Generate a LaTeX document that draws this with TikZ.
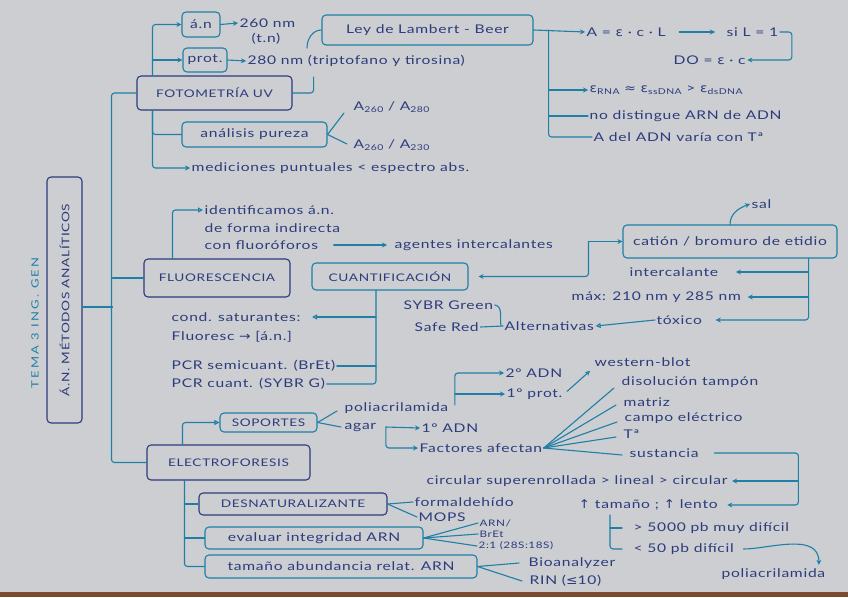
\documentclass[tikz,border=0pt]{standalone}
\usepackage{fontspec}
\setmainfont{Lato}[FakeStretch=1.3,LetterSpace=6]
\newfontfamily\symf{DejaVu Sans}[FakeStretch=1.15]
\newfontfamily\temaf{Lato}[FakeStretch=1.3,LetterSpace=22]
\usetikzlibrary{arrows.meta,calc}
\definecolor{ink}{HTML}{2C3C7C}
\definecolor{tealc}{HTML}{1F7FA6}
\definecolor{paper}{HTML}{CCCED2}
\definecolor{edge}{HTML}{7A4A32}
\newcommand\normtxt{\fontsize{12}{14}\selectfont}
\newcommand\smalltxt{\fontsize{9}{10}\selectfont}
\newcommand\capf{\fontsize{10.5}{12}\selectfont}
\newcommand\lowsub[1]{\raisebox{-0.35ex}{\fontsize{8}{9}\selectfont #1}}
\newcommand\sy[1]{{\symf #1}}
\begin{document}
\begin{tikzpicture}[x=1pt,y=-1pt,
  conn/.style={draw=tealc, line width=1.1pt, line cap=round, line join=round, rounded corners=3pt},
  tip/.style={-{Stealth[length=5pt,width=5pt]}},
  otip/.style={-{Triangle[open,length=5pt,width=5pt]}},
  txt/.style={text=ink, inner sep=1.5pt, anchor=west, font=\normtxt},
  stxt/.style={txt, font=\smalltxt},
  bx/.style={draw=tealc, line width=1.1pt, rounded corners=4pt, text=ink, inner sep=0pt, font=\normtxt},
  bxn/.style={bx, draw=ink},
  capbox/.style={font=\capf}]
\fill[paper] (0,0) rectangle (848,597);
\fill[edge] (0,592) rectangle (848,597);
\useasboundingbox (0,0) rectangle (848,597);

% ---------- title ----------
\node[bxn, capbox, minimum width=246pt, minimum height=35pt, rotate=90] (title) at (64.5,300) {Á.N. MÉTODOS ANALÍTICOS};
\node[rotate=90, text=tealc, font=\temaf\fontsize{10}{12}\selectfont] (tema) at (35,323) {TEMA 3 ING. GEN};

% ---------- main boxes ----------
\node[bxn, capbox, minimum width=155pt, minimum height=34pt] (foto) at (214.5,93) {FOTOMETRÍA UV};
\node[bxn, capbox, minimum width=146pt, minimum height=38pt] (fluo) at (217,278) {FLUORESCENCIA};
\node[bxn, capbox, minimum width=163pt, minimum height=35pt] (elec) at (228.5,462.5) {ELECTROFORESIS};

% ---------- fotometria ----------
\node[bx, minimum width=38pt, minimum height=25pt] (an) at (201,24.5) {á.n};
\node[bx, minimum width=44pt, minimum height=24pt] (prot) at (205,60) {prot.};
\node[bx, minimum width=145pt, minimum height=25pt] (pur) at (254.5,134.5) {análisis pureza};
\node[bx, minimum width=211pt, minimum height=30pt] (ley) at (427.5,30) {Ley de Lambert - Beer};
\node[txt] (t260) at (238,23) {260 nm};
\node[txt] (tn) at (250,39) {(t.n)};
\node[txt] (t280) at (246,61) {280 nm (triptofano y tirosina)};
\node[txt] (a280) at (352,107) {A\lowsub{260} / A\lowsub{280}};
\node[txt] (a230) at (352,145) {A\lowsub{260} / A\lowsub{230}};
\node[txt] (medic) at (190,168) {mediciones puntuales < espectro abs.};
\node[txt] (aecl) at (585,32) {A = \sy{ε} · c · L};
\node[txt] (siL) at (725,32) {si L = 1};
\node[txt] (do) at (672,60) {DO = \sy{ε} · c};
\node[txt] (eps) at (588,90) {\sy{ε}\lowsub{RNA} \sy{≈} \sy{ε}\lowsub{ssDNA} > \sy{ε}\lowsub{dsDNA}};
\node[txt] (nodist) at (588,116) {no distingue ARN de ADN};
\node[txt] (adel) at (592,137) {A del ADN varía con Tª};

% ---------- fluorescencia ----------
\node[txt] (id1) at (203,210) {identificamos á.n.};
\node[txt] (id2) at (203,228) {de forma indirecta};
\node[txt] (id3) at (203,245) {con fluoróforos};
\node[txt] (agentes) at (393,245) {agentes intercalantes};
\node[bx, capbox, minimum width=156pt, minimum height=27pt] (cuant) at (390,276.5) {CUANTIFICACIÓN};
\node[bx, minimum width=214pt, minimum height=33pt] (cation) at (730,241.5) {catión / bromuro de etidio};
\node[txt] (sal) at (750,204) {sal};
\node[txt] (intercal) at (628,272) {intercalante};
\node[txt] (max) at (570,297) {máx: 210 nm y 285 nm};
\node[txt] (toxico) at (655,320) {tóxico};
\node[txt] (alt) at (503,326) {Alternativas};
\node[txt] (sybr) at (402,305) {SYBR Green};
\node[txt] (safe) at (413,327) {Safe Red};
\node[txt] (cond) at (170,317) {cond. saturantes:};
\node[txt] (fluor) at (170,337) {Fluoresc \sy{→} [á.n.]};
\node[txt] (pcrs) at (170,366) {PCR semicuant. (BrEt)};
\node[txt] (pcrc) at (170,384) {PCR cuant. (SYBR G)};

% ---------- electroforesis ----------
\node[bx, capbox, minimum width=97pt, minimum height=19pt] (sop) at (268.5,422.5) {SOPORTES};
\node[bxn, capbox, minimum width=188pt, minimum height=22pt] (desn) at (293,504) {DESNATURALIZANTE};
\node[bx, minimum width=218pt, minimum height=22pt] (eval) at (314,538) {evaluar integridad ARN};
\node[bx, minimum width=272pt, minimum height=23pt] (tam) at (341,566.5) {tamaño abundancia relat. ARN};
\node[txt] (poli) at (343,408) {poliacrilamida};
\node[txt] (agar) at (343,427) {agar};
\node[txt] (adn2) at (504,373) {2º ADN};
\node[txt] (prot1) at (505,394) {1º prot.};
\node[txt] (adn1) at (420,428) {1º ADN};
\node[txt] (fact) at (418,448) {Factores afectan};
\node[txt] (western) at (593,362) {western-blot};
\node[txt] (dis) at (620,382) {disolución tampón};
\node[txt] (matriz) at (622,402) {matriz};
\node[txt] (campo) at (623,418) {campo eléctrico};
\node[txt] (T) at (622,434) {Tª};
\node[txt] (sust) at (628,453) {sustancia};
\node[txt] (circ) at (425,481) {circular superenrollada > lineal > circular};
\node[txt] (tamlento) at (577,505) {\sy{↑} tamaño ; \sy{↑} lento};
\node[txt] (p5000) at (632,528) {> 5000 pb muy difícil};
\node[txt] (p50) at (632,549) {< 50 pb difícil};
\node[txt] (poli2) at (720,574) {poliacrilamida};
\node[txt] (formal) at (413,502) {formaldehído};
\node[txt] (mops) at (417,517) {MOPS};
\node[stxt] (arn) at (478,523) {ARN/};
\node[stxt] (bret) at (478,534) {BrEt};
\node[stxt] (ratio) at (477,546) {2:1 (28S:18S)};
\node[txt] (bioan) at (527,563) {Bioanalyzer};
\node[txt] (rin) at (528,581) {RIN (\sy{≤}10)};

% ---------- connectors: trunk ----------
\draw[conn] (title.south) ++(0,7) -- ++(30,0);
\draw[conn] (foto.west) -- ++(-25,0) |- (elec.west);
\draw[conn] (fluo.west) -- ++(-31,0);

% fotometria
\coordinate (fx) at ([xshift=16pt]foto.north west);
\coordinate (fb) at ([xshift=16pt]foto.south west);
\draw[conn,tip] (fx) |- (an.west);
\draw[conn,tip] (fx |- prot.west) -- (prot.west);
\draw[conn] (fb) |- (pur.west);
\draw[conn,tip] (fb) |- (medic.west);
\draw[conn,tip] (an.east) -- (t260.west);
\draw[conn,tip] (prot.east) -- (t280.west);
\coordinate (leyend) at (307,48);
\draw[conn] (ley.west) to[out=180,in=90] (leyend);
\draw[conn] (foto.east) -- ++(21,0) -- ++(0,-16);
\draw[conn] (pur.east) -- ($(a280.west)+(-8,6)$);
\draw[conn] (pur.east) -- ($(a230.west)+(-5,-1)$);
\coordinate (lv) at ($(ley.east)+(15,0)$);
\draw[conn,tip] (ley.east) -- (aecl.west);
\draw[conn] (lv) -- (lv |- adel.west) -- (adel.west);
\draw[conn,tip] (lv |- eps.west) -- (eps.west);
\draw[conn] (lv |- nodist.west) -- (nodist.west);
\draw[conn,tip,shorten <=12pt,shorten >=10pt] (aecl.east) -- (siL.west);
\draw[conn,tip] (siL.east) -- ++(12,0) |- (do.east);

% fluorescencia
\coordinate (fu) at ([xshift=29pt]fluo.north west);
\draw[conn,otip] (fu) |- (id1.west);
\draw[conn,tip,shorten <=14pt,shorten >=6pt] (id3.east) -- (agentes.west);
\coordinate (cj) at ($(cation.west)+(-34,0)$);
\draw[conn,tip] (cj) -- (cation.west);
\draw[conn,tip,shorten >=10pt] (cj) -- (cj |- cuant.east) -- (cuant.east);
\draw[conn,tip] (cation.north) to[out=90,in=200] (sal.west);
\coordinate (cb) at ([xshift=-29pt]cation.south east);
\draw[conn,tip,shorten >=12pt] (cb) |- (toxico.east);
\draw[conn,tip,shorten >=16pt] (cb |- intercal.east) -- (intercal.east);
\draw[conn,tip,shorten >=5pt] (cb |- max.east) -- (max.east);
\draw[conn,otip] (toxico.west) -- (alt.east);
\draw[conn] (sybr.east) to[out=-10,in=100] ($(alt.west)+(-2,0)$);
\draw[conn] (safe.east) -- (alt.west);
\coordinate (qb) at ([xshift=-14pt]cuant.south);
\draw[conn] (qb) -- (qb |- pcrc.east) -- (pcrc.east);
\draw[conn] (qb |- pcrs.east) -- (pcrs.east);
\draw[conn,otip,shorten >=10pt] (qb |- cond.east) -- (cond.east);

% electroforesis
\coordinate (eu) at ([xshift=36pt]elec.north west);
\draw[conn,otip] (eu) |- (sop.west);
\draw[conn] (sop.east) -- ($(poli.west)+(-6,3)$);
\draw[conn] (sop.east) -- ($(agar.west)+(-2,0)$);
\coordinate (ab) at ($(agar.east)+(8,0)$);
\draw[conn,tip] (ab) -- (adn1.west);
\draw[conn,tip] (ab) |- (fact.west);
\coordinate (pb) at ($(poli.east)+(5,-3)$);
\draw[conn,tip] (pb) |- (adn2.west);
\draw[conn,tip] (pb |- prot1.west) -- (prot1.west);
\draw[conn,tip,shorten <=4pt,shorten >=4pt] (prot1.east) -- (western.south west);
\foreach \n/\dy in {dis/6,matriz/3,campo/4,T/3,sust/2}
  \draw[conn] (fact.east) -- ($(\n.west)+(-6,\dy)$);
\coordinate (sr) at ($(sust.east)+(98,0)$);
\draw[conn,tip,shorten <=14pt,shorten >=8pt] (sust.east) -- (sr) |- (tamlento.east);
\draw[conn,tip,shorten >=3pt] (sr |- circ.east) -- (circ.east);
\coordinate (tb) at ($(tamlento.south west)+(33,3)$);
\draw[conn,shorten >=10pt] (tb) |- (p50.west);
\draw[conn,shorten >=10pt] (tb |- p5000.west) -- (p5000.west);
\draw[conn,tip,shorten <=8pt] (p50.east) to[out=0,in=90] ($(poli2.north east)+(-8,-2)$);
\coordinate (ed) at ([xshift=38pt]elec.south west);
\draw[conn] (ed) |- (tam.west);
\draw[conn] (ed |- desn.west) -- (desn.west);
\draw[conn] (ed |- eval.west) -- (eval.west);
\draw[conn] (desn.east) -- (formal.west);
\draw[conn] (desn.east) -- (mops.west);
\draw[conn] (eval.east) -- (arn.west);
\draw[conn] (eval.east) -- (bret.west);
\draw[conn] (eval.east) -- (ratio.west);
\draw[conn] (tam.east) -- ($(bioan.west)+(-8,0)$);
\draw[conn] (tam.east) -- ($(rin.west)+(-6,0)$);
\end{tikzpicture}
\end{document}
